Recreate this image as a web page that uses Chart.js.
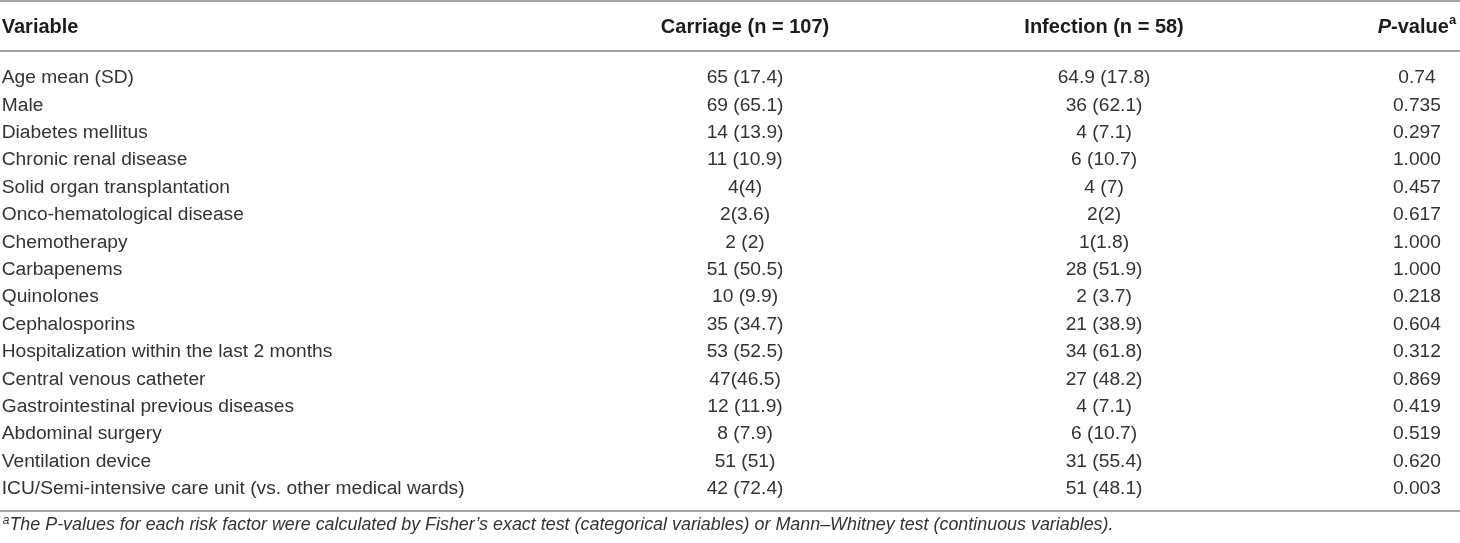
<!DOCTYPE html>
<html>
<head>
<meta charset="utf-8">
<script src="https://cdn.jsdelivr.net/npm/chart.js@4.4.1/dist/chart.umd.min.js"></script>
<style>
  html, body { margin: 0; padding: 0; background: #ffffff; }
  #wrap { position: relative; width: 1460px; height: 543px; }
</style>
</head>
<body>
<div id="wrap"><canvas id="c"></canvas></div>
<script>
// ---- data ----
const headers = ['Variable', 'Carriage (n = 107)', 'Infection (n = 58)', 'P-value'];
const variables = [
  'Age mean (SD)', 'Male', 'Diabetes mellitus', 'Chronic renal disease',
  'Solid organ transplantation', 'Onco-hematological disease', 'Chemotherapy',
  'Carbapenems', 'Quinolones', 'Cephalosporins',
  'Hospitalization within the last 2 months', 'Central venous catheter',
  'Gastrointestinal previous diseases', 'Abdominal surgery', 'Ventilation device',
  'ICU/Semi-intensive care unit (vs. other medical wards)'
];
const carriage = [
  '65 (17.4)', '69 (65.1)', '14 (13.9)', '11 (10.9)', '4(4)', '2(3.6)', '2 (2)',
  '51 (50.5)', '10 (9.9)', '35 (34.7)', '53 (52.5)', '47(46.5)', '12 (11.9)',
  '8 (7.9)', '51 (51)', '42 (72.4)'
];
const infection = [
  '64.9 (17.8)', '36 (62.1)', '4 (7.1)', '6 (10.7)', '4 (7)', '2(2)', '1(1.8)',
  '28 (51.9)', '2 (3.7)', '21 (38.9)', '34 (61.8)', '27 (48.2)', '4 (7.1)',
  '6 (10.7)', '31 (55.4)', '51 (48.1)'
];
const pValues = [
  '0.74', '0.735', '0.297', '1.000', '0.457', '0.617', '1.000', '1.000',
  '0.218', '0.604', '0.312', '0.869', '0.419', '0.519', '0.620', '0.003'
];
const footnoteMark = 'a';
const footnote = 'The P-values for each risk factor were calculated by Fisher\u2019s exact test (categorical variables) or Mann\u2013Whitney test (continuous variables).';

// ---- layout / style ----
const LAYOUT = {
  colX: [0.12, 51.03, 75.62, 97.05],      // column anchors on the x scale (0-100)
  colAlign: ['left', 'center', 'center', 'center'],
  yMin: -2.847, yMax: 16.971,             // row-index scale
  headerRow: -1.861,
  footRow: 16.33,
  rules: [-2.81, -0.985, 15.80]
};
const FAMILY = '"Liberation Sans", Arial, Helvetica, sans-serif';
const BODY_FONT = '19.2px ' + FAMILY;
const HEAD_FONT = 'bold 20px ' + FAMILY;
const HEAD_ITALIC = 'italic bold 20px ' + FAMILY;
const SUP_FONT = 'bold 13px ' + FAMILY;
const FOOT_FONT = 'italic 17.9px ' + FAMILY;
const FOOT_SUP = 'italic 12px ' + FAMILY;
const TEXT = '#333333';
const HEAD_TEXT = '#1c1c1c';
const RULE = '#a3a3a3';

const columnsText = [variables, carriage, infection, pValues];

function drawSegments(ctx, segs, x, y, align) {
  let total = 0;
  segs.forEach(s => { ctx.font = s.font; s.w = ctx.measureText(s.t).width; total += s.w; });
  let cx = align === 'left' ? x : x - total / 2;
  ctx.textAlign = 'left';
  segs.forEach(s => {
    ctx.font = s.font;
    ctx.fillText(s.t, cx, y + (s.dy || 0));
    cx += s.w;
  });
}

const tablePlugin = {
  id: 'tableText',
  afterDatasetsDraw(chart) {
    const ctx = chart.ctx;
    const xs = chart.scales.x, ys = chart.scales.y;
    ctx.save();
    ctx.textBaseline = 'middle';
    // cells
    chart.data.datasets.forEach((ds, di) => {
      const meta = chart.getDatasetMeta(di);
      ctx.font = BODY_FONT;
      ctx.fillStyle = TEXT;
      ctx.textAlign = ds.align;
      meta.data.forEach((pt, i) => ctx.fillText(ds.cellText[i], pt.x, pt.y));
    });
    // header row
    const hy = ys.getPixelForValue(LAYOUT.headerRow);
    ctx.fillStyle = HEAD_TEXT;
    headers.forEach((h, k) => {
      const hx = xs.getPixelForValue(LAYOUT.colX[k]);
      let segs;
      if (h.startsWith('P-')) {
        segs = [
          { t: 'P', font: HEAD_ITALIC },
          { t: h.slice(1), font: HEAD_FONT },
          { t: footnoteMark, font: SUP_FONT, dy: -7 }
        ];
      } else {
        segs = [{ t: h, font: HEAD_FONT }];
      }
      drawSegments(ctx, segs, hx, hy, LAYOUT.colAlign[k]);
    });
    // footnote
    const fy = ys.getPixelForValue(LAYOUT.footRow);
    ctx.fillStyle = TEXT;
    drawSegments(ctx, [
      { t: footnoteMark, font: FOOT_SUP, dy: -5 },
      { t: footnote, font: FOOT_FONT }
    ], xs.getPixelForValue(LAYOUT.colX[0]) + 1, fy, 'left');
    ctx.restore();
  }
};

const datasets = columnsText.map((arr, k) => ({
  label: headers[k],
  cellText: arr,
  align: LAYOUT.colAlign[k],
  data: arr.map((_, i) => ({ x: LAYOUT.colX[k], y: i })),
  pointRadius: 0,
  pointHoverRadius: 0,
  showLine: false
}));

new Chart(document.getElementById('c'), {
  type: 'scatter',
  data: { datasets },
  options: {
    responsive: true,
    maintainAspectRatio: false,
    animation: false,
    events: [],
    layout: { padding: 0 },
    plugins: { legend: { display: false }, tooltip: { enabled: false }, title: { display: false } },
    scales: {
      x: { type: 'linear', min: 0, max: 100, display: false },
      y: {
        type: 'linear',
        reverse: true,
        min: LAYOUT.yMin,
        max: LAYOUT.yMax,
        afterBuildTicks(scale) { scale.ticks = LAYOUT.rules.map(v => ({ value: v })); },
        ticks: { display: false, padding: 0 },
        grid: { color: RULE, lineWidth: 2, drawTicks: false },
        border: { display: false }
      }
    }
  },
  plugins: [tablePlugin]
});
</script>
</body>
</html>
